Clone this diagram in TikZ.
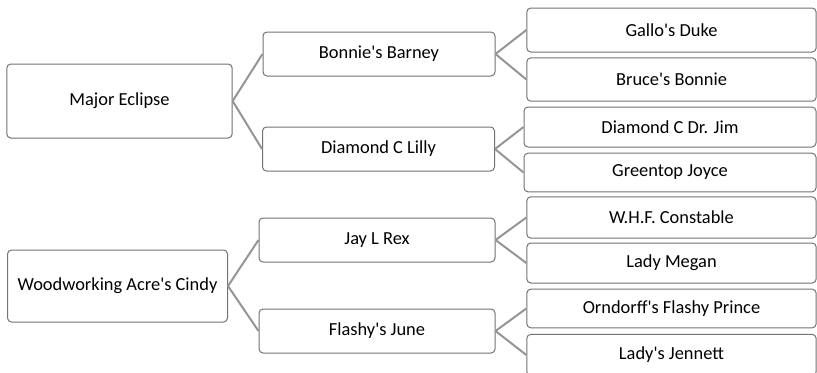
\documentclass[tikz,border=0pt]{standalone}
\usepackage{fontspec}
\setmainfont{Carlito}[Ligatures=TeXOff]
\definecolor{boxline}{HTML}{737373}
\definecolor{linkline}{HTML}{959595}

\begin{document}
\begin{tikzpicture}[x=0.75pt,y=-0.75pt,
  box/.style={draw=boxline,line width=0.75pt,rounded corners=3pt,fill=white,
    font=\fontsize{13.8}{16}\selectfont,text=black,inner sep=0pt},
  root node/.style={box,minimum width=165pt,minimum height=54pt},
  parent node/.style={box,minimum width=174pt,minimum height=33pt},
  leaf node/.style={box,minimum width=217pt,minimum height=30pt}]
  \useasboundingbox (0,0) rectangle (817,372);
  \clip (0,0) rectangle (817,372);

  \node[root node,minimum width=169pt,minimum height=55.5pt] (n0) at (119.5,101) {Major Eclipse};
  \node[parent node] (n1) at (379,54) {Bonnie's Barney};
  \node[parent node] (n2) at (378.5,149) {Diamond C Lilly};
  \node[leaf node,minimum height=33pt] (n3) at (671.5,30) {Gallo's Duke};
  \node[leaf node,minimum height=32.5pt] (n4) at (671.5,79.5) {Bruce's Bonnie};
  \node[leaf node,minimum width=219pt] (n5) at (670,127) {Diamond C Dr. Jim};
  \node[leaf node,minimum width=219pt,minimum height=29pt] (n6) at (670,172.5) {Greentop Joyce};
  \node[root node] (n7) at (117.5,286) {Woodworking Acre's Cindy};
  \node[parent node,minimum width=177pt] (n8) at (377,240) {Jay L Rex};
  \node[parent node,minimum width=177pt] (n9) at (377,331) {Flashy's June};
  \node[leaf node,minimum height=31pt] (n10) at (671.5,217.5) {W.H.F. Constable};
  \node[leaf node] (n11) at (671.5,263) {Lady Megan};
  \node[leaf node,minimum height=29pt] (n12) at (671.5,308.5) {Orndorff's Flashy Prince};
  \node[leaf node,minimum height=31pt] (n13) at (671.5,355) {Lady's Jennett};
 \path[](n0.east) [-,line width=1.5pt,linkline] edge node [] {} (n1.west);
 \path[](n0.east) [-,line width=1.5pt,linkline] edge node [] {} (n2.west);
 \path[](n1.east) [-,line width=1.5pt,linkline] edge node [] {} (n3.west);
 \path[](n1.east) [-,line width=1.5pt,linkline] edge node [] {} (n4.west);
 \path[](n2.east) [-,line width=1.5pt,linkline] edge node [] {} (n5.west);
 \path[](n2.east) [-,line width=1.5pt,linkline] edge node [] {} (n6.west);
 \path[](n7.east) [-,line width=1.5pt,linkline] edge node [] {} (n8.west);
 \path[](n7.east) [-,line width=1.5pt,linkline] edge node [] {} (n9.west);
 \path[](n8.east) [-,line width=1.5pt,linkline] edge node [] {} (n10.west);
 \path[](n8.east) [-,line width=1.5pt,linkline] edge node [] {} (n11.west);
 \path[](n9.east) [-,line width=1.5pt,linkline] edge node [] {} (n12.west);
 \path[](n9.east) [-,line width=1.5pt,linkline] edge node [] {} (n13.west);
\end{tikzpicture}
\end{document}
